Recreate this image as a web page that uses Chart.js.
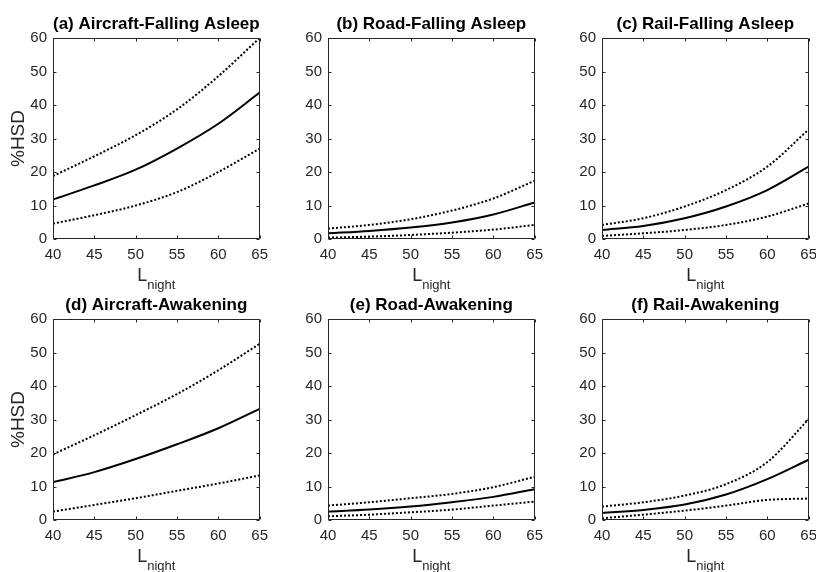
<!DOCTYPE html>
<html>
<head>
<meta charset="utf-8">
<script src="https://cdn.jsdelivr.net/npm/chart.js@4"></script>
<style>
  html, body { margin: 0; padding: 0; background: #fff; }
  body { width: 816px; height: 572px; overflow: hidden; position: relative; }
  canvas { position: absolute; }
</style>
</head>
<body>
<script>
// x values (L_night) and tick labels
const lnight = [40, 45, 50, 55, 60, 65];
const xTickValues = [40, 45, 50, 55, 60, 65];
const yTickValues = [0, 10, 20, 30, 40, 50, 60];

const panelTitles = [
  "(a) Aircraft-Falling Asleep",
  "(b) Road-Falling Asleep",
  "(c) Rail-Falling Asleep",
  "(d) Aircraft-Awakening",
  "(e) Road-Awakening",
  "(f) Rail-Awakening",
];

// %HSD: upper bound, estimate, lower bound
const aircraftSleepUpper = [18.8, 24.7, 31.0, 38.7, 48.6, 60.0];
const aircraftSleepMean = [11.8, 16.0, 20.7, 27.0, 34.4, 43.7];
const aircraftSleepLower = [4.6, 7.1, 10.0, 14.0, 20.0, 27.0];

const roadSleepUpper = [3.1, 4.2, 5.9, 8.5, 12.1, 17.4];
const roadSleepMean = [1.7, 2.4, 3.4, 4.9, 7.3, 10.9];
const roadSleepLower = [0.4, 0.7, 1.2, 1.9, 2.8, 4.2];

const railSleepUpper = [4.2, 6.2, 9.7, 14.6, 21.6, 32.7];
const railSleepMean = [2.7, 3.9, 6.2, 9.7, 14.6, 21.6];
const railSleepLower = [0.9, 1.7, 2.7, 4.2, 6.7, 10.6];

const aircraftAwakeUpper = [19.6, 25.3, 31.3, 37.6, 44.7, 52.6];
const aircraftAwakeMean = [11.3, 14.3, 18.2, 22.6, 27.4, 33.2];
const aircraftAwakeLower = [2.5, 4.5, 6.5, 8.7, 10.9, 13.3];

const roadAwakeUpper = [4.3, 5.3, 6.5, 7.8, 9.8, 12.9];
const roadAwakeMean = [2.5, 3.1, 4.0, 5.3, 6.9, 9.2];
const roadAwakeLower = [1.1, 1.6, 2.3, 3.1, 4.3, 5.5];

const railAwakeUpper = [4.0, 5.3, 7.3, 10.7, 17.3, 30.1];
const railAwakeMean = [2.1, 3.0, 4.6, 7.6, 12.2, 18.0];
const railAwakeLower = [0.5, 1.6, 2.8, 4.3, 6.0, 6.4];

const panelSeries = [
  [aircraftSleepUpper, aircraftSleepMean, aircraftSleepLower],
  [roadSleepUpper, roadSleepMean, roadSleepLower],
  [railSleepUpper, railSleepMean, railSleepLower],
  [aircraftAwakeUpper, aircraftAwakeMean, aircraftAwakeLower],
  [roadAwakeUpper, roadAwakeMean, roadAwakeLower],
  [railAwakeUpper, railAwakeMean, railAwakeLower],
];

const FONT = "'Liberation Sans', Arial, Helvetica, sans-serif";
const AXIS_COLOR = "#262626";

// canvas placement (left/top of each panel canvas)
const canvasLefts = [0, 275, 549];
const canvasTops = [0, 281];
const CANVAS_W = 275;
const CANVAS_H = 292;

// box, inward ticks and axis titles, matlab style
const matlabAxes = {
  id: "matlabAxes",
  afterDraw(chart, args, opts) {
    const { ctx, chartArea: a, scales } = chart;
    const left = Math.round(a.left) + 0.5;
    const right = Math.round(a.right) - 0.5;
    const top = Math.round(a.top) + 0.5;
    const bottom = Math.round(a.bottom) - 0.5;
    ctx.save();
    ctx.strokeStyle = AXIS_COLOR;
    ctx.lineWidth = 1;
    ctx.beginPath();
    ctx.rect(left, top, right - left, bottom - top);
    scales.x.ticks.forEach((t) => {
      const px = Math.round(scales.x.getPixelForValue(t.value)) + 0.5;
      ctx.moveTo(px, bottom);
      ctx.lineTo(px, bottom - 3);
      ctx.moveTo(px, top);
      ctx.lineTo(px, top + 3);
    });
    scales.y.ticks.forEach((t) => {
      const py = Math.round(scales.y.getPixelForValue(t.value)) + 0.5;
      ctx.moveTo(left, py);
      ctx.lineTo(left + 3, py);
      ctx.moveTo(right, py);
      ctx.lineTo(right - 3, py);
    });
    ctx.stroke();

    // x title: L with subscript "night"
    ctx.fillStyle = AXIS_COLOR;
    ctx.textBaseline = "alphabetic";
    ctx.textAlign = "left";
    ctx.font = "18px " + FONT;
    const wL = ctx.measureText("L").width;
    ctx.font = "13px " + FONT;
    const wSub = ctx.measureText("night").width;
    const cx = (a.left + a.right) / 2;
    const x0 = cx - (wL + wSub) / 2;
    ctx.font = "18px " + FONT;
    ctx.fillText("L", x0, a.bottom + 42);
    ctx.font = "13px " + FONT;
    ctx.fillText("night", x0 + wL, a.bottom + 50);

    // y title only on first column
    if (opts.yTitle) {
      ctx.translate(19, (a.top + a.bottom) / 2);
      ctx.rotate(-Math.PI / 2);
      ctx.textAlign = "center";
      ctx.textBaseline = "middle";
      ctx.font = "19px " + FONT;
      ctx.fillText("%HSD", 0, 0);
    }
    ctx.restore();
  },
};

document.addEventListener("DOMContentLoaded", () => {
  panelTitles.forEach((title, i) => {
    const canvas = document.createElement("canvas");
    canvas.width = CANVAS_W;
    canvas.height = CANVAS_H;
    canvas.style.left = canvasLefts[i % 3] + "px";
    canvas.style.top = canvasTops[Math.floor(i / 3)] + "px";
    document.body.appendChild(canvas);

    // upper dotted, estimate solid, lower dotted
    const datasets = panelSeries[i].map((values, k) => ({
      data: values.map((v, j) => ({ x: lnight[j], y: v })),
      borderColor: "#000",
      borderWidth: 2,
      borderDash: k === 1 ? [] : [2, 2],
      pointRadius: 0,
      cubicInterpolationMode: "monotone",
      fill: false,
    }));

    new Chart(canvas.getContext("2d"), {
      type: "line",
      data: { datasets: datasets },
      plugins: [matlabAxes],
      options: {
        responsive: false,
        animation: false,
        events: [],
        layout: { padding: { top: 0, left: 0, right: 14, bottom: 0 } },
        plugins: {
          legend: { display: false },
          tooltip: { enabled: false },
          matlabAxes: { yTitle: i % 3 === 0 },
          title: {
            display: true,
            text: title,
            fullSize: false,
            color: "#000",
            font: { family: FONT, size: 17, weight: "bold", lineHeight: 1.2 },
            padding: { top: 14.5, bottom: 3.1 },
          },
        },
        scales: {
          x: {
            type: "linear",
            min: 40,
            max: 65,
            afterBuildTicks: (axis) => {
              axis.ticks = xTickValues.map((v) => ({ value: v }));
            },
            afterFit: (scale) => {
              scale.height = CANVAS_H - 38 - 201;
            },
            grid: { display: false, drawTicks: false },
            border: { display: false },
            ticks: {
              color: AXIS_COLOR,
              padding: 7,
              maxRotation: 0,
              font: { family: FONT, size: 15 },
            },
          },
          y: {
            min: 0,
            max: 60,
            afterBuildTicks: (axis) => {
              axis.ticks = yTickValues.map((v) => ({ value: v }));
            },
            afterFit: (scale) => {
              scale.width = 53;
            },
            grid: { display: false, drawTicks: false },
            border: { display: false },
            ticks: {
              color: AXIS_COLOR,
              padding: 6,
              font: { family: FONT, size: 15 },
            },
          },
        },
      },
    });
  });
});
</script>
</body>
</html>
